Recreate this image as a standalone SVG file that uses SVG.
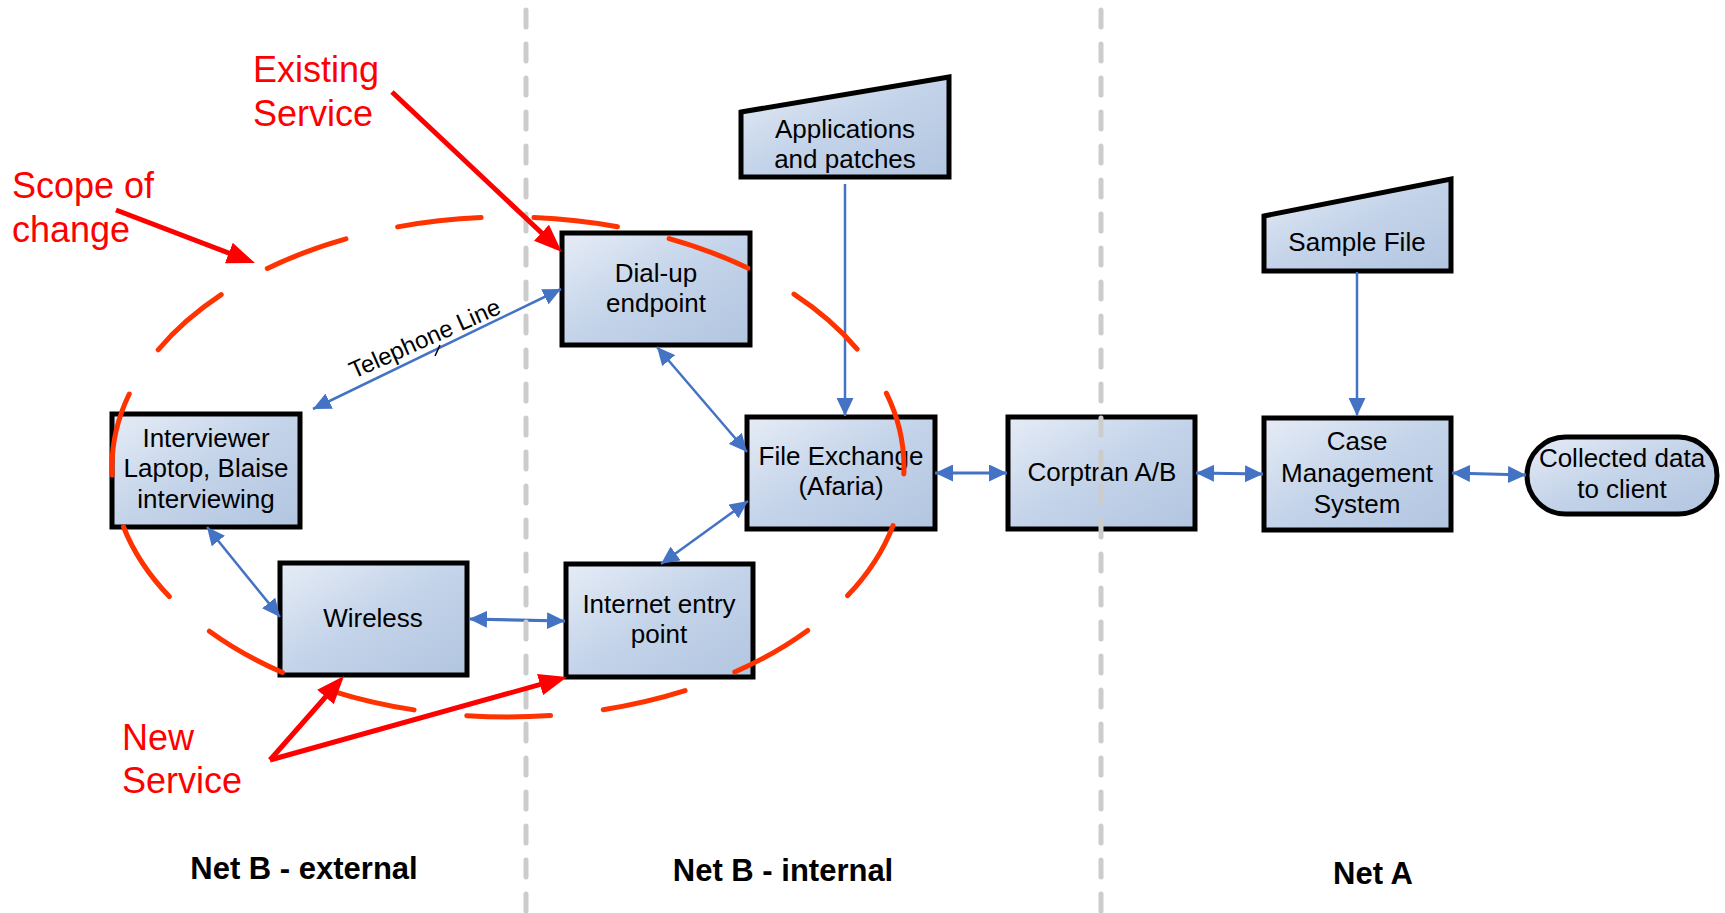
<svg xmlns="http://www.w3.org/2000/svg" width="1725" height="913" viewBox="0 0 1725 913">
<style>
.node{fill:url(#g);stroke:#000;stroke-width:5;stroke-linejoin:miter}
.t{font-family:"Liberation Sans",Arial,sans-serif;font-size:26px;fill:#000;text-anchor:middle}
.ann{font-family:"Liberation Sans",Arial,sans-serif;font-size:36px;fill:#ff0000}
.net{font-family:"Liberation Sans",Arial,sans-serif;font-size:31px;font-weight:bold;fill:#000;text-anchor:middle}
.c{stroke:#4472c4;stroke-width:2.5;fill:none}
.cw{stroke:#4472c4;stroke-width:3.2;fill:none}
.dbl{marker-start:url(#ab);marker-end:url(#ab)}
.one{marker-end:url(#ab)}
.sep{stroke:#cccccc;stroke-width:5;stroke-linecap:round;stroke-dasharray:17 17;fill:none}
.ra{stroke:#ff0000;stroke-width:5;fill:none;marker-end:url(#ar)}
</style>
<defs>
<linearGradient id="g" x1="0" y1="0" x2="1" y2="1">
<stop offset="0" stop-color="#e6ecf6"/>
<stop offset="0.5" stop-color="#c3d3e9"/>
<stop offset="1" stop-color="#b2c5e0"/>
</linearGradient>
<marker id="ab" viewBox="0 0 18 17" refX="18" refY="8.5" markerWidth="18" markerHeight="17" orient="auto-start-reverse" markerUnits="userSpaceOnUse">
<path d="M0,0 L18,8.5 L0,17 z" fill="#4472c4"/>
</marker>
<marker id="ar" viewBox="0 0 28 22" refX="20" refY="11" markerWidth="28" markerHeight="22" orient="auto" markerUnits="userSpaceOnUse">
<path d="M0,0 L28,11 L0,22 z" fill="#ff0000"/>
</marker>
</defs>
<rect width="1725" height="913" fill="#ffffff"/>

<g id="node-applications">
<polygon class="node" points="741,112 949,77 949,177 741,177"/>
<text class="t" x="845" y="138">Applications</text>
<text class="t" x="845" y="168">and patches</text>
</g>
<g id="node-sample-file">
<polygon class="node" points="1264,216 1451,179 1451,271 1264,271"/>
<text class="t" x="1357" y="251">Sample File</text>
</g>
<g id="node-dialup">
<rect class="node" x="562" y="233" width="188" height="112"/>
<text class="t" x="656" y="282">Dial-up</text>
<text class="t" x="656" y="312">endpoint</text>
</g>
<g id="node-interviewer">
<rect class="node" x="112" y="414" width="188" height="113"/>
<text class="t" x="206" y="447">Interviewer</text>
<text class="t" x="206" y="477">Laptop, Blaise</text>
<text class="t" x="206" y="508">interviewing</text>
</g>
<g id="node-wireless">
<rect class="node" x="280" y="563" width="187" height="112"/>
<text class="t" x="373" y="627">Wireless</text>
</g>
<g id="node-internet">
<rect class="node" x="566" y="564" width="187" height="113"/>
<text class="t" x="659" y="613">Internet entry</text>
<text class="t" x="659" y="643">point</text>
</g>
<g id="node-file-exchange">
<rect class="node" x="747" y="417" width="188" height="112"/>
<text class="t" x="841" y="465">File Exchange</text>
<text class="t" x="841" y="495">(Afaria)</text>
</g>
<g id="node-corptran">
<rect class="node" x="1008" y="417" width="187" height="112"/>
<text class="t" x="1102" y="481">Corptran A/B</text>
</g>
<g id="node-case-management">
<rect class="node" x="1264" y="418" width="187" height="112"/>
<text class="t" x="1357" y="450">Case</text>
<text class="t" x="1357" y="482">Management</text>
<text class="t" x="1357" y="513">System</text>
</g>
<g id="node-collected">
<rect class="node" x="1527" y="437" width="190" height="77" rx="38.5" ry="38.5"/>
<text class="t" x="1622" y="467">Collected data</text>
<text class="t" x="1622" y="498">to client</text>
</g>

<g id="connectors">
<line class="c one" x1="845" y1="184" x2="845" y2="416"/>
<line class="c one" x1="1357" y1="272" x2="1357" y2="416"/>
<line class="c dbl" x1="313" y1="409" x2="561" y2="289"/>
<line class="c dbl" x1="657" y1="347" x2="747" y2="452"/>
<line class="c dbl" x1="207" y1="527" x2="280" y2="617"/>
<line class="c dbl" x1="661" y1="564" x2="748" y2="501"/>
<line class="cw dbl" x1="469" y1="619" x2="565" y2="621"/>
<line class="cw dbl" x1="935" y1="473" x2="1007" y2="473"/>
<line class="cw dbl" x1="1196" y1="473" x2="1263" y2="474"/>
<line class="cw dbl" x1="1452" y1="473" x2="1526" y2="475"/>
<text transform="translate(428,346) rotate(-24)" font-family="Liberation Sans, Arial, sans-serif" font-size="24" text-anchor="middle" fill="#000">Telephone Line</text>
<line x1="440" y1="345" x2="435" y2="356" stroke="#000" stroke-width="1.5"/>
</g>

<g id="separators">
<line class="sep" x1="526" y1="10" x2="526" y2="913"/>
<line class="sep" x1="1101" y1="10" x2="1101" y2="913"/>
</g>

<g id="scope">
<path d="M904,467 A396,250 0 0 1 508,717 A396,250 0 0 1 112,467 A396,250 0 0 1 508,217 A396,250 0 0 1 904,467" fill="none" stroke="#ff3300" stroke-width="5" stroke-linecap="round" stroke-dasharray="84 53" stroke-dashoffset="77"/>
</g>

<g id="annotations">
<line class="ra" x1="392" y1="92" x2="556" y2="246.5"/>
<line class="ra" x1="116" y1="210" x2="247.5" y2="260.2"/>
<line class="ra" x1="270" y1="760" x2="338.7" y2="682"/>
<line class="ra" x1="270" y1="760" x2="559.3" y2="679.2"/>
<text class="ann" x="253" y="82">Existing</text>
<text class="ann" x="253" y="126">Service</text>
<text class="ann" x="12" y="198">Scope of</text>
<text class="ann" x="12" y="242">change</text>
<text class="ann" x="122" y="750">New</text>
<text class="ann" x="122" y="793">Service</text>
</g>

<g id="labels">
<text class="net" x="304" y="879">Net B - external</text>
<text class="net" x="783" y="881">Net B - internal</text>
<text class="net" x="1373" y="884">Net A</text>
</g>
</svg>
